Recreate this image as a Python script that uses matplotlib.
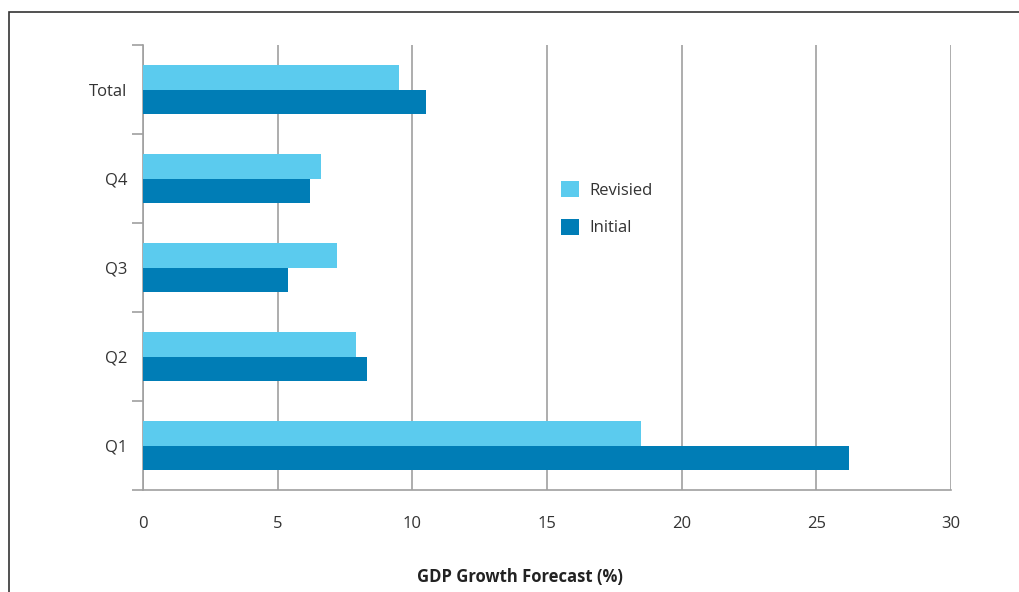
import matplotlib.pyplot as plt
from matplotlib.patches import Rectangle

# Data
categories = ["Q1", "Q2", "Q3", "Q4", "Total"]
revised = [18.5, 7.9, 7.2, 6.6, 9.5]
initial = [26.2, 8.3, 5.4, 6.2, 10.5]
x_ticks = [0, 5, 10, 15, 20, 25, 30]

c_rev = "#5BCBEE"
c_init = "#007DB6"
grid_c = "#A0A0A0"

plt.rcParams['font.family'] = ['Open Sans', 'DejaVu Sans']

fig = plt.figure(figsize=(10.19, 5.92), dpi=100)
ax = fig.add_axes([143 / 1019, 1 - 490 / 592, 808 / 1019, 445 / 592])

# outer frame (left and top edges only visible)
fig.patches.append(Rectangle((9 / 1019, -0.1), 1.2, 1 - 12 / 592 + 0.1,
                             transform=fig.transFigure, fill=False,
                             edgecolor="#333333", linewidth=1.2))

y = list(range(len(categories)))
h = 0.28
ax.barh([v + h / 2 for v in y], revised, height=h, color=c_rev, label="Revisied", zorder=3)
ax.barh([v - h / 2 for v in y], initial, height=h, color=c_init, label="Initial", zorder=3)

ax.set_xlim(0, 30)
ax.set_ylim(-0.5, len(categories) - 0.5)
ax.set_xticks(x_ticks)
ax.set_yticks(y)
ax.set_yticklabels(categories)
ax.set_yticks([v - 0.5 for v in range(len(categories) + 1)], minor=True)

ax.tick_params(axis="x", length=0, pad=19, labelsize=12, labelcolor="#333333")
ax.tick_params(axis="y", which="major", length=0, pad=11, labelsize=12, labelcolor="#333333")
ax.tick_params(axis="y", which="minor", length=8, width=1.2, color=grid_c)

ax.grid(axis="x", color=grid_c, linewidth=1.2, zorder=0)
for s in ["top", "right"]:
    ax.spines[s].set_visible(False)
for s in ["left", "bottom"]:
    ax.spines[s].set_color(grid_c)
    ax.spines[s].set_linewidth(1.2)

ax.set_xlabel("GDP Growth Forecast (%)", fontsize=12, fontweight="bold",
              color="#222222", labelpad=24)
ax.xaxis.set_label_coords(0.467, -0.175)

ax.legend(loc="upper left", bbox_to_anchor=(546 / 1019, 1 - 166 / 592),
          bbox_transform=fig.transFigure, frameon=False, fontsize=12,
          handlelength=1.1, handleheight=1.1, labelspacing=1.2,
          handletextpad=0.6, labelcolor="#333333")

fig.savefig("out.png", dpi=100)
